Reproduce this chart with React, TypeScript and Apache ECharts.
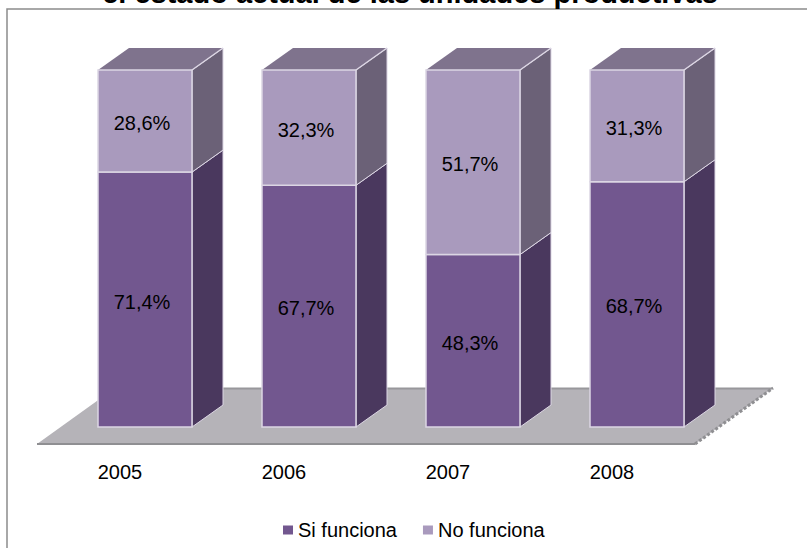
import React, { useEffect, useRef } from "react";
import * as echarts from "echarts";

const categories = ["2005", "2006", "2007", "2008"];
const siFunciona = [71.4, 67.7, 48.3, 68.7];
const noFunciona = [28.6, 32.3, 51.7, 31.3];
const siLabels = ["71,4%", "67,7%", "48,3%", "68,7%"];
const noLabels = ["28,6%", "32,3%", "51,7%", "31,3%"];
const titleText = "el estado actual de las unidades productivas";

const FONT = '"Liberation Sans", Arial, sans-serif';
const DX = 31;
const DY = -22;
const BAR_W = 94;

function barRender(base: number[], labels: string[], front: string, side: string, top: string | null) {
  return (params: any, api: any) => {
    const i = params.dataIndex;
    const start = base[i];
    const value = api.value(1);
    const p0 = api.coord([i, start]);
    const p1 = api.coord([i, start + value]);
    const xl = p0[0] - BAR_W / 2;
    const xr = p0[0] + BAR_W / 2;
    const yb = p0[1];
    const yt = p1[1];
    const edge = "#dcd6e4";
    const children: any[] = [
      {
        type: "polygon",
        shape: { points: [[xr, yb], [xr + DX, yb + DY], [xr + DX, yt + DY], [xr, yt]] },
        style: { fill: side, stroke: edge, lineWidth: 1 },
      },
    ];
    if (top) {
      children.push({
        type: "polygon",
        shape: { points: [[xl, yt], [xl + DX, yt + DY], [xr + DX, yt + DY], [xr, yt]] },
        style: { fill: top },
      });
      children.push({
        type: "line",
        shape: { x1: xr, y1: yt, x2: xr + DX, y2: yt + DY },
        style: { stroke: edge, lineWidth: 1.5 },
      });
    }
    children.push({
      type: "rect",
      shape: { x: xl, y: yt, width: BAR_W, height: yb - yt },
      style: { fill: front, stroke: edge, lineWidth: 1.5 },
    });
    children.push({
      type: "text",
      style: {
        x: p0[0] - 3,
        y: (yt + yb) / 2 + 2,
        text: labels[i],
        fill: "#000",
        font: `20px ${FONT}`,
        align: "center",
        verticalAlign: "middle",
      },
    });
    return { type: "group", children };
  };
}

export default function App() {
  const ref = useRef<HTMLDivElement>(null);
  useEffect(() => {
    document.body.style.margin = "0";
    const chart = echarts.init(ref.current!, undefined, { renderer: "svg" });
    chart.setOption({
      animation: false,
      backgroundColor: "#fff",
      grid: { left: 63, right: 88, top: 70, bottom: 121 },
      xAxis: {
        type: "category",
        data: categories,
        axisLine: { show: false },
        axisTick: { show: false },
        axisLabel: {
          color: "#000",
          fontFamily: FONT,
          fontSize: 20,
          margin: 35,
          padding: [0, 50, 0, 0],
        },
      },
      yAxis: { type: "value", min: 0, max: 100, show: false },
      legend: {
        data: ["Si funciona", "No funciona"],
        left: 278,
        top: 515,
        icon: "rect",
        itemWidth: 10,
        itemHeight: 9,
        itemGap: 26,
        textStyle: { color: "#000", fontFamily: FONT, fontSize: 20 },
      },
      graphic: [
        {
          type: "rect",
          z: 0,
          shape: { x: 7, y: 9, width: 805, height: 560 },
          style: { fill: "none", stroke: "#8c8c8c", lineWidth: 1.5 },
        },
        {
          type: "polygon",
          z: 0,
          shape: { points: [[37, 444], [115, 388], [773, 388], [695, 444]] },
          style: { fill: "#b5b3b8" },
        },
        {
          type: "polyline",
          z: 0,
          shape: { points: [[37, 444], [695, 444]] },
          style: { fill: "none", stroke: "#8f8f92", lineWidth: 2 },
        },
        {
          type: "polyline",
          z: 0,
          shape: { points: [[115, 388.5], [773, 388.5]] },
          style: { fill: "none", stroke: "#98979b", lineWidth: 2 },
        },
        {
          type: "polyline",
          z: 0,
          shape: { points: [[695, 444], [773, 388]] },
          style: { fill: "none", stroke: "#8f8f92", lineWidth: 3, lineDash: [3, 2] },
        },
        {
          type: "text",
          z: 5,
          style: {
            x: 410,
            y: 7,
            text: titleText,
            fill: "#000",
            font: `bold 29px ${FONT}`,
            align: "center",
            verticalAlign: "bottom",
          },
        },
      ],
      series: [
        {
          name: "Si funciona",
          type: "custom",
          z: 3,
          itemStyle: { color: "#72578f" },
          renderItem: barRender([0, 0, 0, 0], siLabels, "#72578f", "#4a385e", null),
          encode: { x: 0, y: 1 },
          data: siFunciona.map((v, i) => [i, v]),
        },
        {
          name: "No funciona",
          type: "custom",
          z: 3,
          itemStyle: { color: "#a99abd" },
          renderItem: barRender(siFunciona, noLabels, "#a99abd", "#6b6177", "#7f738d"),
          encode: { x: 0, y: 1 },
          data: noFunciona.map((v, i) => [i, v]),
        },
      ],
    });
    return () => chart.dispose();
  }, []);
  return <div ref={ref} style={{ width: 807, height: 548 }} />;
}
